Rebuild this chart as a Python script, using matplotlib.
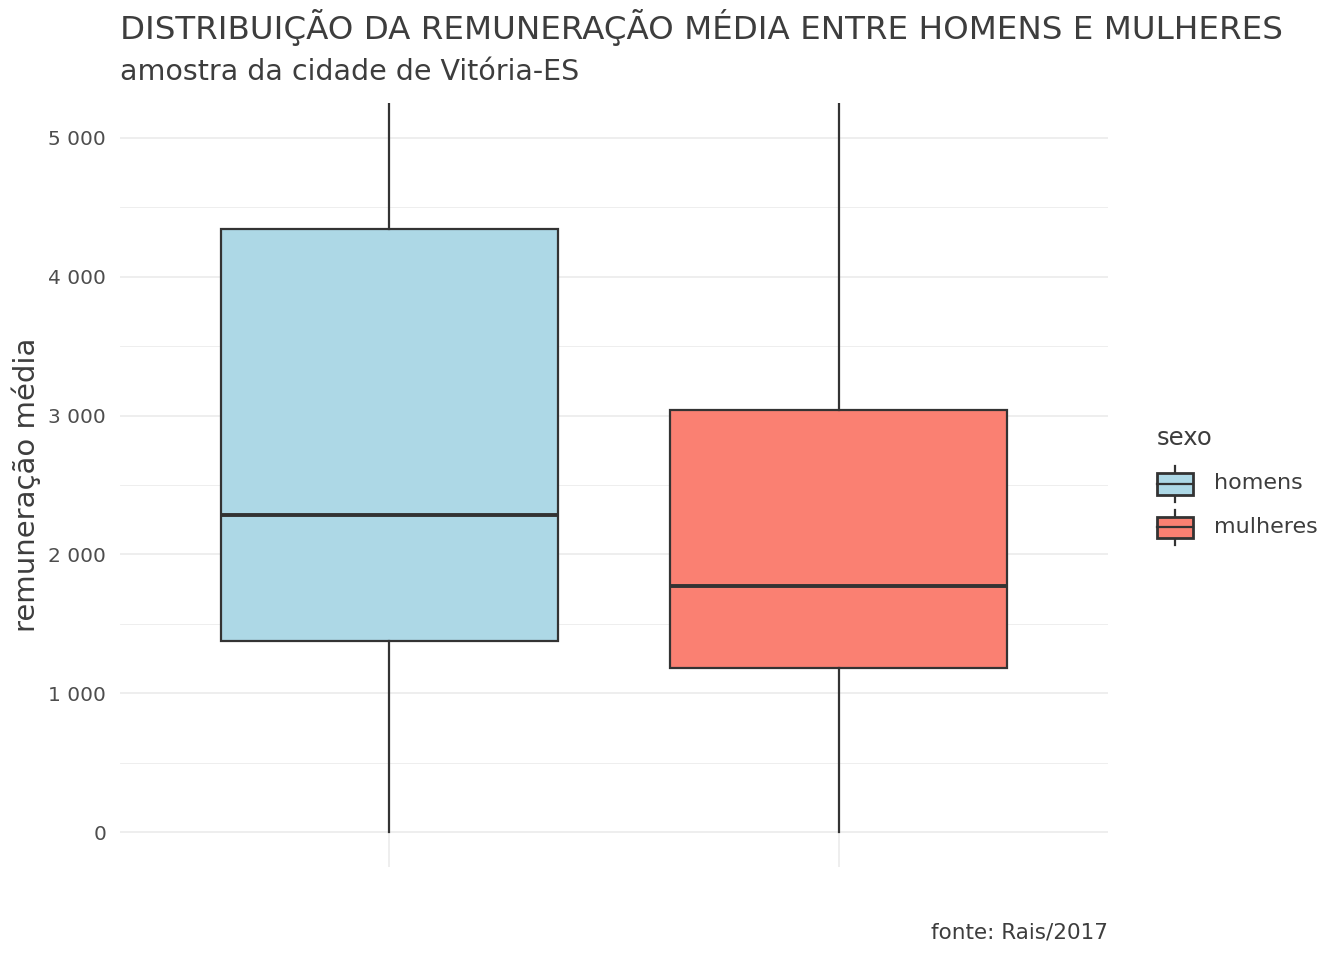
#!/usr/bin/env python3

'''Boxplot of average pay for men and women, Vitoria-ES sample.'''

import matplotlib.pyplot as plt
import matplotlib.ticker as ticker
from matplotlib.legend_handler import HandlerBase
from matplotlib.lines import Line2D
from matplotlib.patches import Rectangle, Patch

plt.rcParams['font.family'] = ['DejaVu Sans']

CATEGORIES = ['homens', 'mulheres']
COLORS = ['#add8e6', '#fa8072']
Q1 = [1380, 1185]
MEDIANS = [2285, 1775]
Q3 = [4340, 3040]
WHISK_LO = [0, 0]
WHISK_HI = [8700, 5800]

TITLE = 'DISTRIBUIÇÃO DA REMUNERAÇÃO MÉDIA ENTRE HOMENS E MULHERES'
SUBTITLE = 'amostra da cidade de Vitória-ES'
Y_LABEL = 'remuneração média'
CAPTION = 'fonte: Rais/2017'

LINE = '#333333'
GRID = '#ebebeb'
TEXT = '#3d3d3d'


class BoxKeyHandler(HandlerBase):
    '''Draw a small boxplot glyph as legend key.'''
    def create_artists(self, legend, orig, xd, yd, width, height, fontsize, trans):
        cx = xd + width / 2
        y0 = yd - 0.38 * fontsize  # centre key on the label
        face = orig.get_facecolor()
        whisk = Line2D([cx, cx], [y0 - 0.33 * height, y0 + 1.33 * height],
                       color=LINE, lw=1.6, transform=trans)
        box = Rectangle((xd, y0), width, height, facecolor=face,
                        edgecolor=LINE, lw=2.0, transform=trans)
        med = Line2D([xd, xd + width], [y0 + height / 2] * 2,
                     color=LINE, lw=1.6, transform=trans)
        return [whisk, box, med]


def format_axis(axis):
    '''Apply the minimal grey grid theme.'''
    axis.set_xlim(0.4, 2.6)
    axis.set_ylim(-250, 5250)
    axis.yaxis.set_major_locator(ticker.MultipleLocator(1000))
    axis.yaxis.set_minor_locator(ticker.MultipleLocator(500))
    axis.yaxis.set_major_formatter(
        ticker.FuncFormatter(lambda v, _: f'{int(v):,}'.replace(',', ' ')))
    axis.set_xticks([1, 2])
    axis.set_xticklabels(['', ''])
    axis.grid(which='major', color=GRID, lw=1.2, zorder=0)
    axis.yaxis.grid(which='minor', color=GRID, lw=0.6, zorder=0)
    axis.set_axisbelow(True)
    axis.tick_params(which='both', length=0, labelsize=14.5, labelcolor='#4d4d4d', pad=10)
    for spine in axis.spines.values():
        spine.set_visible(False)
    axis.set_ylabel(Y_LABEL, fontsize=21, color=TEXT, labelpad=5)


def main():
    fig = plt.figure(figsize=(13.44, 9.6), dpi=100)
    axis = fig.add_axes([120 / 1344, 1 - 867 / 960, 988 / 1344, 764 / 960])

    stats = []
    for i, name in enumerate(CATEGORIES):
        stats.append(dict(label=name, q1=Q1[i], med=MEDIANS[i], q3=Q3[i],
                          whislo=WHISK_LO[i], whishi=WHISK_HI[i], fliers=[]))
    graph = axis.bxp(stats, positions=[1, 2], widths=0.75, patch_artist=True,
                     showcaps=False, showfliers=False,
                     boxprops=dict(edgecolor=LINE, lw=1.6),
                     whiskerprops=dict(color=LINE, lw=1.6),
                     medianprops=dict(color=LINE, lw=2.8, solid_capstyle='butt'))
    for patch, color in zip(graph['boxes'], COLORS):
        patch.set_facecolor(color)
    format_axis(axis)

    fig.text(120 / 1344, 1 - 28 / 960, TITLE, fontsize=23.4, color=TEXT, va='center')
    fig.text(120 / 1344, 1 - 72 / 960, SUBTITLE, fontsize=20.5, color=TEXT, va='center')
    fig.text(1108 / 1344, 1 - 933 / 960, CAPTION, fontsize=15.5, color=TEXT,
             ha='right', va='center')

    handles = [Patch(facecolor=c) for c in COLORS]
    leg = fig.legend(handles, CATEGORIES, title='sexo', loc='upper left',
                     bbox_to_anchor=(1137 / 1344, 1 - 406 / 960),
                     handler_map={Patch: BoxKeyHandler()},
                     frameon=False, fontsize=16, title_fontsize=17.5,
                     handlelength=1.6, handleheight=1.1, handletextpad=0.95,
                     labelspacing=0.95, alignment='left')
    for txt in leg.get_texts():
        txt.set_color(TEXT)
    leg.get_title().set_color(TEXT)

    fig.savefig('out.png', dpi=100)


if __name__ == '__main__':
    main()
